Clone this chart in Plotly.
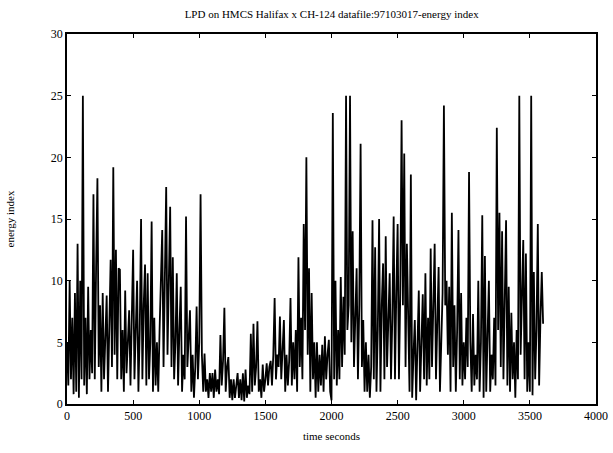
import plotly.graph_objects as go

# energy index, one value every 10 s (0 .. 3600 s)
energy_index = [
    # 0-90
    5, 1.5, 10, 2, 7, 0.8, 9, 1, 13, 0.5,
    # 100-190
    10, 2, 25, 1.5, 7, 0.8, 9.5, 2, 6, 2.5,
    # 200-290
    17, 2, 11, 18.3, 3, 8, 1, 9, 2, 6,
    # 300-390
    8.8, 1, 6, 11.7, 3, 19.2, 4, 12.5, 2, 11,
    # 400-490
    10.9, 2, 6, 1, 9.2, 2.5, 5, 7.6, 1.5, 6,
    # 500-590
    12.5, 2, 7, 10, 1, 6, 15, 2, 8, 11.3,
    # 600-690
    1.5, 10.6, 2, 5, 14.8, 1, 7, 1.5, 5, 1,
    # 700-790
    6, 11, 14.1, 3, 12, 17.6, 4, 12, 16, 3,
    # 800-890
    11.9, 2, 5, 10.6, 1.5, 6, 9.5, 1, 4, 2,
    # 900-990
    15.2, 3, 6, 7.6, 1, 4, 0.5, 3, 7.9, 2,
    # 1000-1090
    5, 17, 4, 1, 4.1, 1, 2, 0.5, 2.5, 1,
    # 1100-1190
    2.5, 0.5, 2.8, 1, 2, 0.8, 5.6, 1.5, 3.5, 7.8,
    # 1200-1290
    1, 3, 3.8, 0.5, 2, 0.3, 2, 0.5, 1.5, 2.5,
    # 1300-1390
    0.5, 2, 0.3, 2.5, 0.2, 2.8, 0.5, 1.5, 0.8, 5.7,
    # 1400-1490
    1, 6.5, 1.5, 3, 6.7, 1, 2, 0.5, 3.2, 1,
    # 1500-1590
    2, 3.3, 1.5, 3, 3.5, 1.5, 4, 8.6, 2, 4,
    # 1600-1690
    3, 7.1, 2, 5, 6.8, 1, 4, 1.5, 3.5, 8.6,
    # 1700-1790
    1.5, 5, 2, 6, 1, 11.9, 3, 7, 2, 14.6,
    # 1800-1890
    6, 20, 4, 11, 1, 9, 2, 5, 0.5, 5,
    # 1900-1990
    1, 4, 1.5, 4.8, 1, 5.5, 2, 4, 5.2, 1,
    # 2000-2090
    0.3, 23.6, 2, 10, 1.5, 6, 2, 10.3, 3, 8.7,
    # 2100-2190
    4, 25, 6, 8, 25, 5, 14, 3, 7, 11,
    # 2200-2290
    2, 8, 21.1, 3, 6.8, 1, 5, 1, 4, 0.5,
    # 2300-2390
    3, 14.9, 2, 12.7, 1, 6, 15, 1, 8, 11.4,
    # 2400-2490
    2, 13.6, 3, 7, 10.6, 2, 7, 15.2, 2, 9,
    # 2500-2590
    14.6, 2, 9, 23, 8, 20.3, 3, 13, 5, 1,
    # 2600-2690
    18.6, 0.5, 4, 6.8, 0.3, 5, 9.2, 1, 6, 8.9,
    # 2700-2790
    2, 10.6, 1.5, 7, 2, 12.6, 3, 8, 13, 2,
    # 2800-2890
    6, 11.1, 1, 5, 9, 24.2, 8, 10, 4, 9.5,
    # 2900-2990
    1, 15.5, 3, 8, 1, 6, 14.1, 2, 9, 1.5,
    # 3000-3090
    5, 2, 7, 3, 18.8, 5, 1, 7.3, 1.5, 4,
    # 3100-3190
    2, 10, 1, 5, 15.3, 0.5, 12, 1, 5, 10,
    # 3200-3290
    1, 4, 2, 7, 1.5, 22.4, 6, 15.5, 3, 14,
    # 3300-3390
    2, 10.5, 14.9, 1.5, 9.5, 1, 7.4, 2, 5, 0.5,
    # 3400-3490
    6, 2, 25, 4, 8, 13.3, 2, 12.2, 1, 5,
    # 3500-3600
    1, 25, 0.7, 10.7, 2, 6, 14.6, 1.5, 7, 10.7, 6.5,
]
sample_step = 10
time_seconds = [i * sample_step for i in range(len(energy_index))]

x_ticks = [0, 500, 1000, 1500, 2000, 2500, 3000, 3500, 4000]
y_ticks = [0, 5, 10, 15, 20, 25, 30]

serif = "Liberation Serif, Times New Roman, serif"

fig = go.Figure()
fig.add_trace(go.Scatter(
    x=time_seconds, y=energy_index, mode="lines",
    line=dict(color="black", width=1.8),
    showlegend=False, hoverinfo="skip",
))

axis_common = dict(
    showline=True, linecolor="black", linewidth=1.5, mirror="ticks",
    ticks="inside", ticklen=4, tickcolor="black", tickwidth=1,
    showgrid=False, zeroline=False, automargin=False,
    tickfont=dict(family=serif, size=12, color="black"),
)

fig.update_layout(
    width=613, height=453,
    margin=dict(l=67, r=17, t=34, b=49),
    paper_bgcolor="white", plot_bgcolor="white",
    title=dict(
        text="LPD on HMCS Halifax x CH-124 datafile:97103017-energy index",
        x=0.541, xanchor="center", y=1 - 14 / 453, yanchor="middle",
        font=dict(family=serif, size=11, color="black"),
    ),
    xaxis=dict(range=[0, 4000], tickvals=x_ticks,
               title=dict(text="time seconds", standoff=10,
                          font=dict(family=serif, size=11, color="black")),
               **axis_common),
    yaxis=dict(range=[0, 30], tickvals=y_ticks,
               title=dict(text="energy index", standoff=34,
                          font=dict(family=serif, size=11, color="black")),
               **axis_common),
)

fig.write_html("out.html")
